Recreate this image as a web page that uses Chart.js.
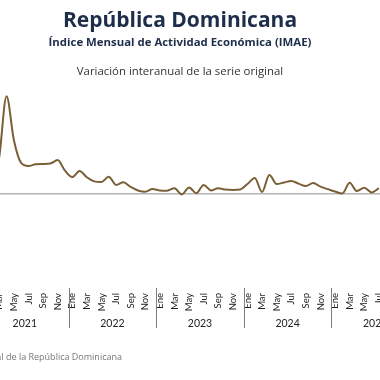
<!DOCTYPE html>
<html>
<head>
<meta charset="utf-8">
<script src="https://cdn.jsdelivr.net/npm/chart.js@4"></script>
<style>
html,body{margin:0;padding:0;width:380px;height:380px;overflow:hidden;background:#fff;font-family:"Open Sans",sans-serif;}
#wrap{position:absolute;left:-19px;top:0;width:438px;height:380px;}
.t{position:absolute;left:0;width:360px;text-align:center;white-space:nowrap;font-family:"Open Sans";}
.t span{display:inline-block;}
#t1{top:5px;font-size:21px;font-weight:700;color:#1d2d4a;line-height:28px;}
#t2{top:34px;font-size:11.4px;font-weight:700;color:#1d2d4a;line-height:15px;}
#t3{top:63px;font-size:11.4px;color:#333;line-height:15px;}
#src{position:absolute;right:258px;top:351px;font-size:9px;color:#777;white-space:nowrap;line-height:12px;font-family:"Open Sans";}
</style>
</head>
<body>
<div id="wrap"><canvas id="c"></canvas></div>
<div class="t" id="t1"><span>República Dominicana</span></div>
<div class="t" id="t2"><span>Índice Mensual de Actividad Económica (IMAE)</span></div>
<div class="t" id="t3"><span>Variación interanual de la serie original</span></div>
<div id="src">Fuente: Banco Central de la República Dominicana</div>
<script>
const monthNames = ['Ene','Feb','Mar','Abr','May','Jun','Jul','Ago','Sep','Oct','Nov','Dic'];
const years = ['2021','2022','2023','2024','2025'];
const v2021 = [-1.1, 1.1, 16.6, 44.2, 24.3, 13.9, 12.5, 13.3, 13.4, 13.6, 15.2, 10.4];
const v2022 = [7.5, 10.2, 7.4, 5.5, 5.2, 7.6, 3.9, 5.1, 3.0, 1.4, 0.8, 2.0];
const v2023 = [1.4, 1.3, 2.4, -0.4, 2.7, 0.1, 3.9, 1.4, 2.4, 1.8, 1.6, 1.8];
const v2024 = [4.3, 7.0, 0.7, 8.4, 4.3, 5.0, 5.7, 4.5, 3.4, 4.8, 3.1, 2.0];
const v2025 = [0.9, 0.0, 4.9, 1.1, 2.6, 0.5, 2.4, null, null, null, null, null];

const labels = [];
years.forEach(() => monthNames.forEach(m => labels.push(m)));
const values = [].concat(v2021, v2022, v2023, v2024, v2025);

// vertical separators between years, positioned from the category scale
const yearSeparators = {
  id: 'yearSeparators',
  afterDraw(chart) {
    const sx = chart.scales.x;
    const ctx = chart.ctx;
    const y1 = chart.chartArea.bottom + 1;
    const y2 = y1 + 40;
    ctx.save();
    ctx.strokeStyle = '#7d7d7d';
    ctx.lineWidth = 1;
    for (let k = 1; k < years.length; k++) {
      const i = k * monthNames.length;
      const px = Math.round((sx.getPixelForValue(i - 1) + sx.getPixelForValue(i)) / 2) + 0.5;
      ctx.beginPath();
      ctx.moveTo(px, y1);
      ctx.lineTo(px, y2);
      ctx.stroke();
    }
    ctx.restore();
  }
};

const noSidePadding = scale => { scale.paddingLeft = 0; scale.paddingRight = 0; };

new Chart(document.getElementById('c'), {
  type: 'line',
  data: {
    labels: labels,
    datasets: [{
      data: values,
      xAxisID: 'x',
      borderColor: '#7a5f36',
      borderWidth: 2,
      pointRadius: 0,
      cubicInterpolationMode: 'monotone',
      fill: false
    }]
  },
  plugins: [yearSeparators],
  options: {
    responsive: true,
    maintainAspectRatio: false,
    animation: false,
    layout: { padding: { top: 83.5, bottom: 50.2, left: 0, right: 0 } },
    plugins: { legend: { display: false }, tooltip: { enabled: false } },
    scales: {
      x: {
        type: 'category',
        offset: true,
        weight: 0,
        position: 'bottom',
        afterFit: noSidePadding,
        border: { display: false },
        grid: { display: false, drawTicks: false },
        ticks: {
          autoSkip: false,
          minRotation: 90,
          maxRotation: 90,
          padding: 6,
          color: '#222',
          font: { family: 'Lato', size: 9.5 },
          callback: function (v, i) { return (i % 2 === 0) ? monthNames[i % 12] : ''; }
        }
      },
      x2: {
        type: 'category',
        labels: years,
        offset: true,
        weight: 1,
        position: 'bottom',
        afterFit: noSidePadding,
        border: { display: false },
        grid: { display: false, drawTicks: false },
        ticks: { padding: 0, color: '#222', font: { family: 'Lato', size: 10.5 } }
      },
      y: {
        min: -42.5,
        max: 50,
        border: { display: false },
        ticks: { display: false, stepSize: 10 },
        grid: {
          drawTicks: false,
          lineWidth: 1.5,
          color: ctx => (ctx.tick && ctx.tick.value === 0) ? '#b5b5b5' : 'rgba(0,0,0,0)'
        }
      }
    }
  }
});
</script>
</body>
</html>
